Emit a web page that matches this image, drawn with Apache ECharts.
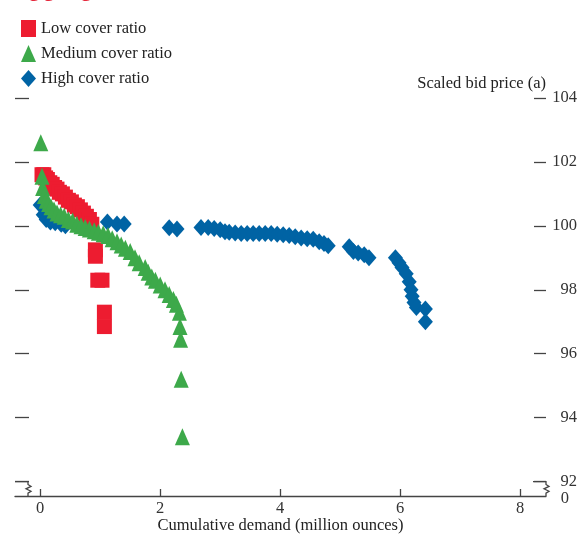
<!DOCTYPE html>
<html>
<head>
<meta charset="utf-8">
<script src="https://cdn.jsdelivr.net/npm/echarts@6/dist/echarts.min.js"></script>
<style>
  html, body { margin: 0; padding: 0; background: #fff; }
  #main { width: 579px; height: 534px; }
</style>
</head>
<body>
<div id="main"></div>
<script>
// series names
var seriesNames = ['Low cover ratio', 'Medium cover ratio', 'High cover ratio'];

// low cover ratio (x = cumulative demand, y = scaled bid price)
var lowX = [0.03, 0.06, 0.09, 0.12, 0.16, 0.2, 0.24, 0.28, 0.32, 0.37, 0.42, 0.47, 0.52, 0.57, 0.62, 0.67, 0.72, 0.77, 0.82, 0.86, 0.92, 0.92, 0.96, 1.03, 1.07, 1.07];
var lowY = [101.6, 101.6, 101.5, 101.45, 101.35, 101.3, 101.2, 101.15, 101.05, 101.0, 100.9, 100.8, 100.75, 100.65, 100.6, 100.5, 100.4, 100.3, 100.2, 100.05, 99.25, 99.05, 98.3, 98.3, 97.3, 96.85];

// medium cover ratio
var medX = [0.01, 0.03, 0.04, 0.07, 0.1, 0.14, 0.18, 0.23, 0.28, 0.34, 0.4, 0.47, 0.54, 0.61, 0.68, 0.75, 0.82, 0.9, 0.97, 1.05, 1.13, 1.2, 1.28, 1.35, 1.42, 1.5, 1.58, 1.65, 1.75, 1.8, 1.86, 1.92, 2.0, 2.08, 2.15, 2.22, 2.27, 2.32, 2.33, 2.34, 2.35, 2.37];
var medY = [102.6, 101.55, 101.2, 100.95, 100.8, 100.7, 100.6, 100.5, 100.4, 100.35, 100.3, 100.2, 100.15, 100.05, 100.0, 99.95, 99.9, 99.85, 99.8, 99.75, 99.7, 99.6, 99.5, 99.4, 99.3, 99.2, 99.0, 98.85, 98.7, 98.55, 98.4, 98.3, 98.15, 98.0, 97.85, 97.7, 97.55, 97.3, 96.85, 96.45, 95.2, 93.4];

// high cover ratio
var highX = [0.0, 0.05, 0.1, 0.17, 0.25, 0.35, 0.42, 1.12, 1.28, 1.4, 2.15, 2.28,
  2.68, 2.8, 2.9, 3.0, 3.08, 3.15, 3.25, 3.35, 3.45, 3.55, 3.65, 3.75, 3.85, 3.95, 4.05, 4.15, 4.25, 4.35, 4.45, 4.55, 4.65, 4.73, 4.8,
  5.15, 5.22, 5.3, 5.4, 5.48,
  5.92, 5.98, 6.03, 6.1, 6.15, 6.18, 6.2, 6.23, 6.27, 6.42, 6.42];
var highY = [100.65, 100.35, 100.2, 100.12, 100.1, 100.05, 100.0, 100.12, 100.06, 100.06, 99.94, 99.9,
  99.95, 99.95, 99.92, 99.88, 99.82, 99.8, 99.78, 99.76, 99.76, 99.76, 99.76, 99.76, 99.76, 99.74, 99.72, 99.7, 99.66, 99.62, 99.6, 99.58, 99.5, 99.45, 99.38,
  99.35, 99.2, 99.15, 99.1, 99.0,
  99.0, 98.85, 98.7, 98.5, 98.25, 98.0, 97.8, 97.6, 97.45, 97.4, 97.0];

// axis ticks
var xTicks = [0, 2, 4, 6, 8];
var yTicks = [92, 94, 96, 98, 100, 102, 104];

var colors = ['#ED1C30', '#3DA94A', '#0063A4'];
var serif = '"Liberation Serif", "Times New Roman", serif';

function pairs(xs, ys) {
    return xs.map(function(x, i) { return [x, ys[i]]; });
}

var yMin = 91.55;

var chart = echarts.init(document.getElementById('main'), null, { renderer: 'canvas' });

var option = {
    animation: false,
    backgroundColor: '#fff',
    grid: { left: 15, right: 33, top: 98, bottom: 38, outerBoundsMode: 'none', containLabel: false },
    legend: {
        orient: 'vertical',
        left: 16,
        top: 15,
        itemWidth: 15,
        itemHeight: 17,
        itemGap: 8,
        selectedMode: false,
        data: seriesNames,
        textStyle: { fontFamily: serif, fontSize: 16.5, color: '#222' }
    },
    xAxis: {
        type: 'value',
        min: -0.42,
        max: 8.43,
        name: 'Cumulative demand (million ounces)',
        nameLocation: 'middle',
        nameGap: 21,
        nameMoveOverlap: false,
        nameTextStyle: { fontFamily: serif, fontSize: 16.5, color: '#222', verticalAlign: 'top' },
        axisLine: { show: true, onZero: false, lineStyle: { color: '#444', width: 1.3 } },
        axisTick: { show: true, inside: true, length: 7, customValues: xTicks, lineStyle: { color: '#444', width: 1.3 } },
        axisLabel: { customValues: xTicks, margin: 4, fontFamily: serif, fontSize: 16.5, color: '#333' },
        splitLine: { show: false }
    },
    yAxis: [{
        type: 'value',
        position: 'left',
        min: yMin,
        max: 104,
        axisLine: { show: false, onZero: false },
        axisTick: { show: true, inside: true, length: 14, customValues: yTicks, lineStyle: { color: '#444', width: 1.3 } },
        axisLabel: { show: false },
        splitLine: { show: false }
    }, {
        type: 'value',
        position: 'right',
        min: yMin,
        max: 104,
        name: 'Scaled bid price (a)',
        nameLocation: 'end',
        nameGap: 14,
        nameTextStyle: { fontFamily: serif, fontSize: 16.5, color: '#222', align: 'right', verticalAlign: 'middle' },
        axisLine: { show: false, onZero: false },
        axisTick: { show: true, inside: true, length: 12, customValues: yTicks, lineStyle: { color: '#444', width: 1.3 } },
        axisLabel: {
            customValues: [yMin].concat(yTicks),
            hideOverlap: false,
            showMinLabel: true,
            align: 'right',
            margin: 31,
            fontFamily: serif,
            fontSize: 16.5,
            color: '#333',
            formatter: function(v) { return v < 92 ? '{z|0}' : String(v); },
            rich: { z: { fontFamily: serif, fontSize: 16.5, color: '#333', padding: [6, 8, 0, 0] } }
        },
        splitLine: { show: false }
    }],
    series: [{
        name: seriesNames[0],
        type: 'scatter',
        symbol: 'rect',
        symbolSize: [15, 15],
        z: 3,
        itemStyle: { color: colors[0], opacity: 1 },
        data: pairs(lowX, lowY)
    }, {
        name: seriesNames[1],
        type: 'scatter',
        symbol: 'triangle',
        symbolSize: [15, 17],
        z: 4,
        itemStyle: { color: colors[1], opacity: 1 },
        data: pairs(medX, medY)
    }, {
        name: seriesNames[2],
        type: 'scatter',
        symbol: 'diamond',
        symbolSize: [15, 17],
        z: 2,
        itemStyle: { color: colors[2], opacity: 1 },
        data: pairs(highX, highY)
    }]
};

chart.setOption(option);

// axis break marks + clipped red heading
function zigzag(x, yTop, yBot) {
    var h = yBot - yTop;
    return [[x, yTop], [x, yTop + h * 0.2], [x + 3, yTop + h * 0.33], [x - 2, yTop + h * 0.5],
            [x + 3, yTop + h * 0.67], [x, yTop + h * 0.8], [x, yBot]];
}
var y92 = chart.convertToPixel({ yAxisIndex: 0 }, 92);
var yBot = chart.convertToPixel({ yAxisIndex: 0 }, yMin);
var xL = 15, xR = 579 - 33;
var lineStyle = { stroke: '#444', lineWidth: 1.3, fill: null };

chart.setOption({
    graphic: [
        { type: 'polyline', shape: { points: [[xL, y92], [xL + 13, y92]].concat(zigzag(xL + 13, y92, yBot).slice(1)) }, style: lineStyle, silent: true },
        { type: 'polyline', shape: { points: [[xR - 13, y92], [xR, y92]].concat(zigzag(xR, y92, yBot).slice(1)) }, style: lineStyle, silent: true },
        { type: 'text', left: 10, top: -23, silent: true,
          style: { text: 'Aggregate bid curves', fill: '#E5283C', font: 'bold 24px "Liberation Sans", Arial, sans-serif' } }
    ]
});
</script>
</body>
</html>
